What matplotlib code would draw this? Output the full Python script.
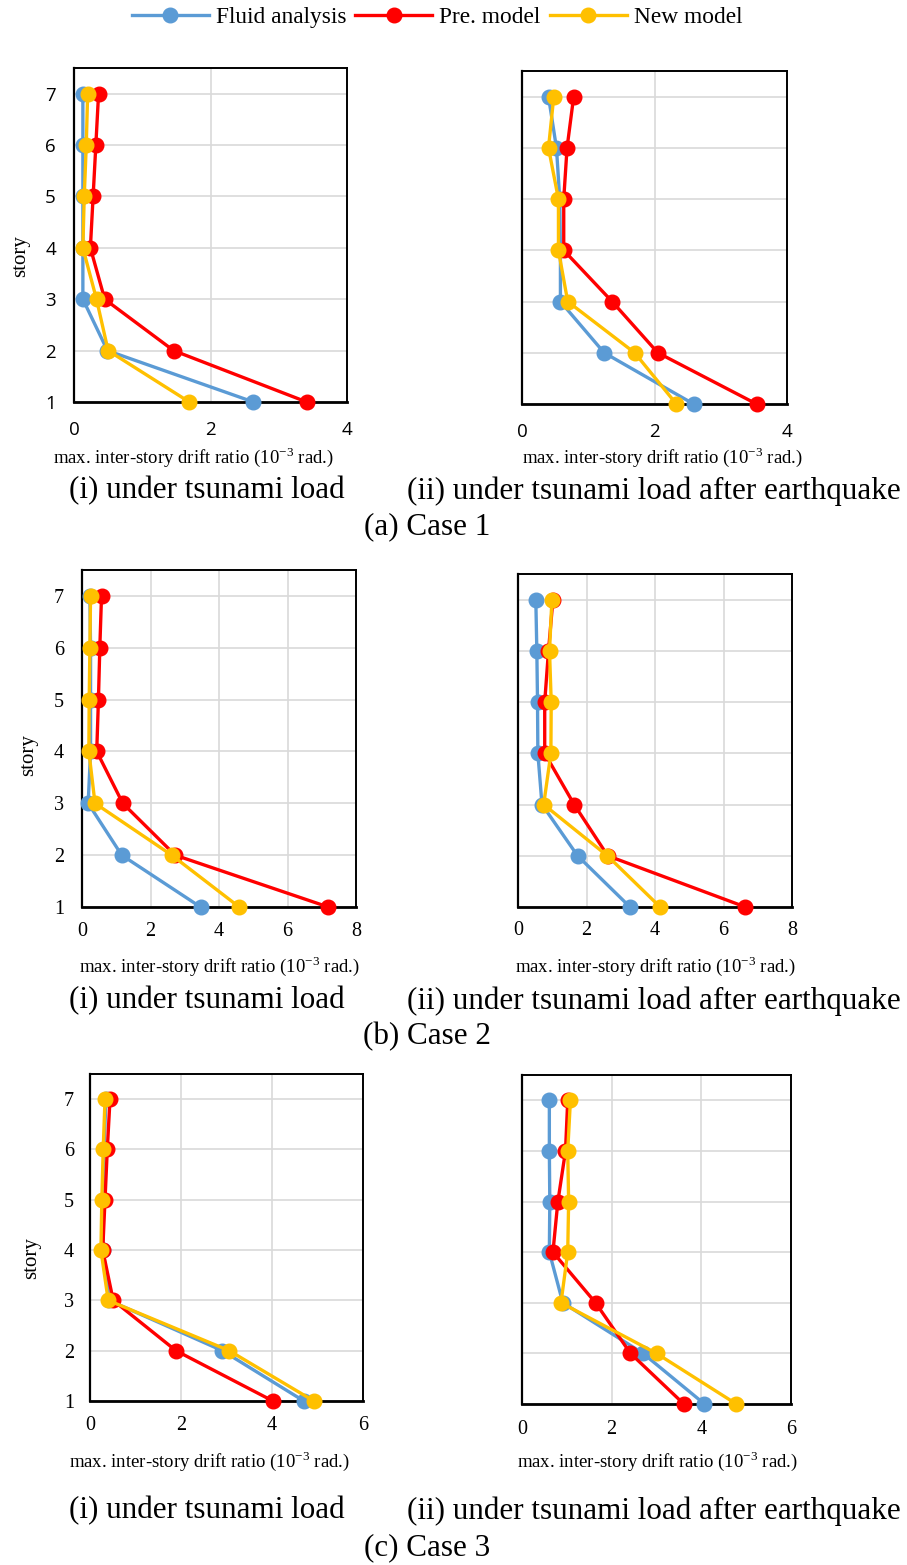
import matplotlib
matplotlib.use("Agg")
import matplotlib.pyplot as plt
from matplotlib.lines import Line2D

stories = [1, 2, 3, 4, 5, 6, 7]

# Case 1 (i)
c1i_fluid = [2.63, 0.49, 0.13, 0.13, 0.13, 0.13, 0.13]
c1i_pre   = [3.41, 1.46, 0.45, 0.24, 0.28, 0.32, 0.36]
c1i_new   = [1.69, 0.50, 0.33, 0.13, 0.15, 0.18, 0.20]
# Case 1 (ii)
c1ii_fluid = [2.59, 1.24, 0.58, 0.58, 0.57, 0.52, 0.40]
c1ii_pre   = [3.54, 2.05, 1.36, 0.63, 0.63, 0.68, 0.78]
c1ii_new   = [2.33, 1.70, 0.69, 0.55, 0.55, 0.40, 0.48]
# Case 2 (i)
c2i_fluid = [3.46, 1.16, 0.18, 0.25, 0.25, 0.25, 0.23]
c2i_pre   = [7.19, 2.72, 1.19, 0.43, 0.48, 0.52, 0.57]
c2i_new   = [4.59, 2.62, 0.38, 0.20, 0.21, 0.23, 0.25]
# Case 2 (ii)
c2ii_fluid = [3.27, 1.74, 0.70, 0.58, 0.57, 0.55, 0.52]
c2ii_pre   = [6.64, 2.62, 1.64, 0.78, 0.78, 0.89, 1.02]
c2ii_new   = [4.15, 2.61, 0.75, 0.96, 0.97, 0.92, 0.99]
# Case 3 (i)
c3i_fluid = [4.70, 2.91, 0.42, 0.29, 0.28, 0.31, 0.35]
c3i_pre   = [4.02, 1.89, 0.51, 0.28, 0.33, 0.38, 0.44]
c3i_new   = [4.92, 3.06, 0.40, 0.24, 0.26, 0.29, 0.33]
# Case 3 (ii)
c3ii_fluid = [4.07, 2.70, 0.91, 0.61, 0.62, 0.61, 0.61]
c3ii_pre   = [3.61, 2.42, 1.64, 0.69, 0.80, 0.97, 1.02]
c3ii_new   = [4.78, 3.00, 0.87, 1.02, 1.04, 1.02, 1.08]

series_names = ["Fluid analysis", "Pre. model", "New model"]
colors = ["#5B9BD5", "#FF0000", "#FFC000"]
xmax_list = [4, 8, 6]
xlabel = "max. inter-story drift ratio (10$^{\\mathregular{-3}}$ rad.)"
sublabels = ["(i) under tsunami load", "(ii) under tsunami load after earthquake"]
case_titles = ["(a) Case 1", "(b) Case 2", "(c) Case 3"]

data = [
    [(c1i_fluid, c1i_pre, c1i_new), (c1ii_fluid, c1ii_pre, c1ii_new)],
    [(c2i_fluid, c2i_pre, c2i_new), (c2ii_fluid, c2ii_pre, c2ii_new)],
    [(c3i_fluid, c3i_pre, c3i_new), (c3ii_fluid, c3ii_pre, c3ii_new)],
]

W, H = 907, 1565
plt.rcParams['font.family'] = ['Liberation Serif', 'DejaVu Serif']
plt.rcParams['mathtext.fontset'] = 'custom'
plt.rcParams['mathtext.rm'] = 'Liberation Serif'
fig = plt.figure(figsize=(W / 100, H / 100), dpi=100)

# axes boxes in pixels: left, right, top, bottom
boxes = [
    [(74, 347, 68, 402), (522, 787, 71, 404)],
    [(82, 356, 570, 907), (518, 792, 574, 907)],
    [(90, 363, 1074, 1401), (522, 791, 1075, 1404)],
]
xpad_px = [[19, 19], [15, 14], [15, 16]]
ypad_px = [18, 18, 16]
xlabel_y = [[457, 457], [966, 966], [1461, 1461]]
xlabel_x = [[193, 662], [219, 655], [209, 657]]
sub_y = [491, 1001, 1511]
case_y = [527, 1037, 1548]
story_xy = [(21, 256), (29, 755), (32, 1258)]


def fc(x, y):
    return x / W, 1 - y / H


for r in range(3):
    for c in range(2):
        l, rr, t, b = boxes[r][c]
        ax = fig.add_axes([l / W, 1 - b / H, (rr - l) / W, (b - t) / H])
        for vals, col, name in zip(data[r][c], colors, series_names):
            ax.plot(vals, stories, color=col, lw=2.4, marker='o', ms=10.5,
                    label=name, clip_on=False, zorder=3)
        ax.set_xlim(0, xmax_list[r])
        ax.set_ylim(1, 7.5)
        ax.set_xticks(range(0, xmax_list[r] + 1, 2))
        ax.set_yticks(stories)
        ax.grid(True, color='#D9D9D9', lw=1.2, zorder=0)
        ax.set_axisbelow(True)
        for s in ['top', 'right']:
            ax.spines[s].set_linewidth(1.4)
        ax.spines['left'].set_linewidth(1.6)
        ax.spines['bottom'].set_linewidth(2.0)
        if r == 0:
            tick_font = dict(family=['Open Sans', 'DejaVu Sans'], size=13.5)
        else:
            tick_font = dict(family=['Liberation Serif'], size=14.5)
        ax.tick_params(axis='both', length=0)
        ax.tick_params(axis='x', pad=xpad_px[r][c] * 0.72)
        ax.tick_params(axis='y', pad=ypad_px[r] * 0.72)
        for lab in ax.get_xticklabels():
            lab.set_fontfamily(tick_font['family'])
            lab.set_fontsize(tick_font['size'])
        for lab in ax.get_yticklabels():
            lab.set_fontfamily(tick_font['family'])
            lab.set_fontsize(tick_font['size'])
        if c == 1:
            ax.set_yticklabels([])
        fig.text(*fc(xlabel_x[r][c], xlabel_y[r][c]), xlabel, ha='center', va='center',
                 fontsize=13.5)
    sx, sy = story_xy[r]
    fig.text(*fc(sx, sy), "story", rotation=90, ha='center', va='center', fontsize=15)
    fig.text(*fc(207, sub_y[r]), sublabels[0], ha='center', va='center', fontsize=22.4)
    fig.text(*fc(654, sub_y[r]), sublabels[1], ha='center', va='center', fontsize=22.4)
    fig.text(*fc(427, case_y[r]), case_titles[r], ha='center', va='center', fontsize=22.4)

handles = [Line2D([0], [0], color=col, lw=2.4, marker='o', ms=10.5) for col in colors]
fig.legend(handles, series_names, loc='center', bbox_to_anchor=fc(437, 17), ncol=3,
           frameon=False, fontsize=16.8, handlelength=3.3, handletextpad=0.3,
           columnspacing=0.4)

fig.savefig("out.png", dpi=100)
